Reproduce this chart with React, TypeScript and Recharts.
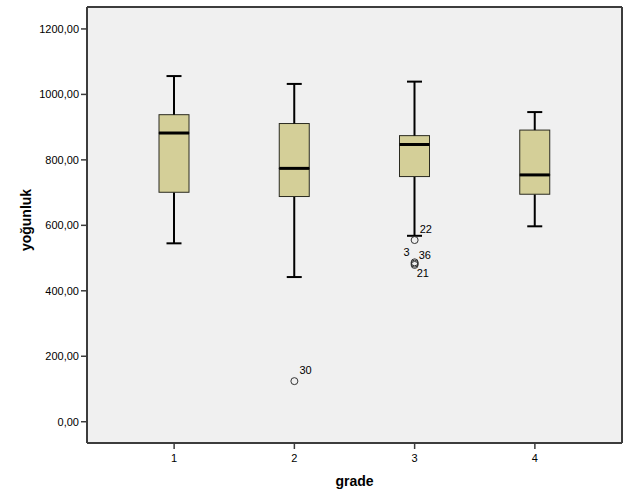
import React from 'react';
import {
  ComposedChart,
  Bar,
  Line,
  XAxis,
  YAxis,
  CartesianGrid,
} from 'recharts';

// five-number summaries per grade
const grades = ['1', '2', '3', '4'];
const mins = [545, 442, 568, 597];
const q1s = [701, 688, 749, 695];
const medians = [882, 774, 847, 754];
const q3s = [938, 911, 874, 891];
const maxs = [1056, 1032, 1039, 946];

// outliers (value + case number), one series per label placement
const outlierA = [null, 124, 555, null];
const outlierACases = [null, '30', '22', null];
const outlierB = [null, null, 487, null];
const outlierBCases = [null, null, '3', null];
const outlierC = [null, null, 483, null];
const outlierCCases = [null, null, '36', null];
const outlierD = [null, null, 479, null];
const outlierDCases = [null, null, '21', null];

const yTicks = [0, 200, 400, 600, 800, 1000, 1200];

const data = grades.map((g, i) => ({
  grade: g,
  base: mins[i],
  lowWhisker: q1s[i] - mins[i],
  lowBox: medians[i] - q1s[i],
  highBox: q3s[i] - medians[i],
  highWhisker: maxs[i] - q3s[i],
  oA: outlierA[i],
  oACase: outlierACases[i],
  oB: outlierB[i],
  oBCase: outlierBCases[i],
  oC: outlierC[i],
  oCCase: outlierCCases[i],
  oD: outlierD[i],
  oDCase: outlierDCases[i],
}));

const FONT = '"Liberation Sans", Arial, sans-serif';
const BOX_FILL = '#d4cf98';
const FRAME = '#3c3c3c';

const Empty = () => null;

const LowWhisker = (props: any) => {
  const { x, y, width, height } = props;
  const cx = x + width / 2;
  const yb = y + height;
  return (
    <g>
      <line x1={cx} y1={y} x2={cx} y2={yb} stroke="#000" strokeWidth={2} />
      <line x1={cx - 7.5} y1={yb} x2={cx + 7.5} y2={yb} stroke="#000" strokeWidth={2} />
    </g>
  );
};

const HighWhisker = (props: any) => {
  const { x, y, width, height } = props;
  const cx = x + width / 2;
  return (
    <g>
      <line x1={cx} y1={y} x2={cx} y2={y + height} stroke="#000" strokeWidth={2} />
      <line x1={cx - 7.5} y1={y} x2={cx + 7.5} y2={y} stroke="#000" strokeWidth={2} />
    </g>
  );
};

const LowBox = (props: any) => {
  const { x, y, width, height } = props;
  return (
    <rect x={x} y={y} width={width} height={height} fill={BOX_FILL} stroke="#2a2a20" strokeWidth={1} />
  );
};

const HighBox = (props: any) => {
  const { x, y, width, height } = props;
  return (
    <g>
      <rect x={x} y={y} width={width} height={height} fill={BOX_FILL} stroke="#2a2a20" strokeWidth={1} />
      <line x1={x} y1={y + height} x2={x + width} y2={y + height} stroke="#000" strokeWidth={3} />
    </g>
  );
};

const makeOutlierDot = (caseKey: string, dx: number, dy: number, anchor: string) => (props: any) => {
  const { cx, cy, payload, index } = props;
  if (cy == null || isNaN(cy) || payload[caseKey] == null) return <g key={index} />;
  return (
    <g key={index}>
      <circle cx={cx} cy={cy} r={3.5} fill="none" stroke="#333" strokeWidth={1} />
      <text x={cx + dx} y={cy + dy} textAnchor={anchor} fontSize={11} fontFamily={FONT} fill="#000">
        {payload[caseKey]}
      </text>
    </g>
  );
};

const fmt = (v: number) => v.toFixed(2).replace('.', ',');

export default function App() {
  return (
    <div style={{ position: 'absolute', left: 0, top: 0, width: 629, height: 504, background: '#fff' }}>
      <ComposedChart
        width={629}
        height={504}
        data={data}
        margin={{ top: 7, right: 7, bottom: 31, left: 7 }}
      >
        <CartesianGrid
          fill="#f0f0f0"
          stroke={FRAME}
          strokeWidth={2}
          horizontalCoordinatesGenerator={({ offset }: any) => [offset.top, offset.top + offset.height]}
          verticalCoordinatesGenerator={({ offset }: any) => [offset.left, offset.left + offset.width]}
        />
        <XAxis
          dataKey="grade"
          padding={{ left: 27, right: 27 }}
          height={30}
          axisLine={false}
          tickLine={{ stroke: FRAME, strokeWidth: 1.5 }}
          tickSize={6}
          tickMargin={5}
          tick={{ fill: '#000', fontSize: 11, fontFamily: FONT }}
          label={{
            content: ({ viewBox }: any) => (
              <text
                x={viewBox.x + viewBox.width / 2}
                y={viewBox.y + viewBox.height + 13}
                textAnchor="middle"
                fontSize={14}
                fontWeight="bold"
                fontFamily={FONT}
                fill="#000"
              >
                grade
              </text>
            ),
          }}
        />
        <YAxis
          type="number"
          domain={[-65, 1267]}
          ticks={yTicks}
          width={80}
          axisLine={false}
          tickLine={{ stroke: FRAME, strokeWidth: 1.5 }}
          tickSize={6}
          tickFormatter={fmt}
          tick={{ fill: '#000', fontSize: 11, fontFamily: FONT }}
          label={{
            content: ({ viewBox }: any) => {
              const lx = viewBox.x + 24;
              const ly = viewBox.y + viewBox.height / 2 - 5;
              return (
                <text
                  x={lx}
                  y={ly}
                  transform={`rotate(-90 ${lx} ${ly})`}
                  textAnchor="middle"
                  fontSize={14}
                  fontWeight="bold"
                  fontFamily={FONT}
                  fill="#000"
                >
                  yoğunluk
                </text>
              );
            },
          }}
        />
        <Bar dataKey="base" stackId="box" barSize={30} shape={<Empty />} isAnimationActive={false} />
        <Bar dataKey="lowWhisker" stackId="box" barSize={30} shape={<LowWhisker />} isAnimationActive={false} />
        <Bar dataKey="lowBox" stackId="box" barSize={30} shape={<LowBox />} isAnimationActive={false} />
        <Bar dataKey="highBox" stackId="box" barSize={30} shape={<HighBox />} isAnimationActive={false} />
        <Bar dataKey="highWhisker" stackId="box" barSize={30} shape={<HighWhisker />} isAnimationActive={false} />
        <Line dataKey="oA" stroke="none" dot={makeOutlierDot('oACase', 5, -7, 'start')} activeDot={false} isAnimationActive={false} />
        <Line dataKey="oB" stroke="none" dot={makeOutlierDot('oBCase', -5, -6, 'end')} activeDot={false} isAnimationActive={false} />
        <Line dataKey="oC" stroke="none" dot={makeOutlierDot('oCCase', 4, -5, 'start')} activeDot={false} isAnimationActive={false} />
        <Line dataKey="oD" stroke="none" dot={makeOutlierDot('oDCase', 2, 12, 'start')} activeDot={false} isAnimationActive={false} />
      </ComposedChart>
    </div>
  );
}
